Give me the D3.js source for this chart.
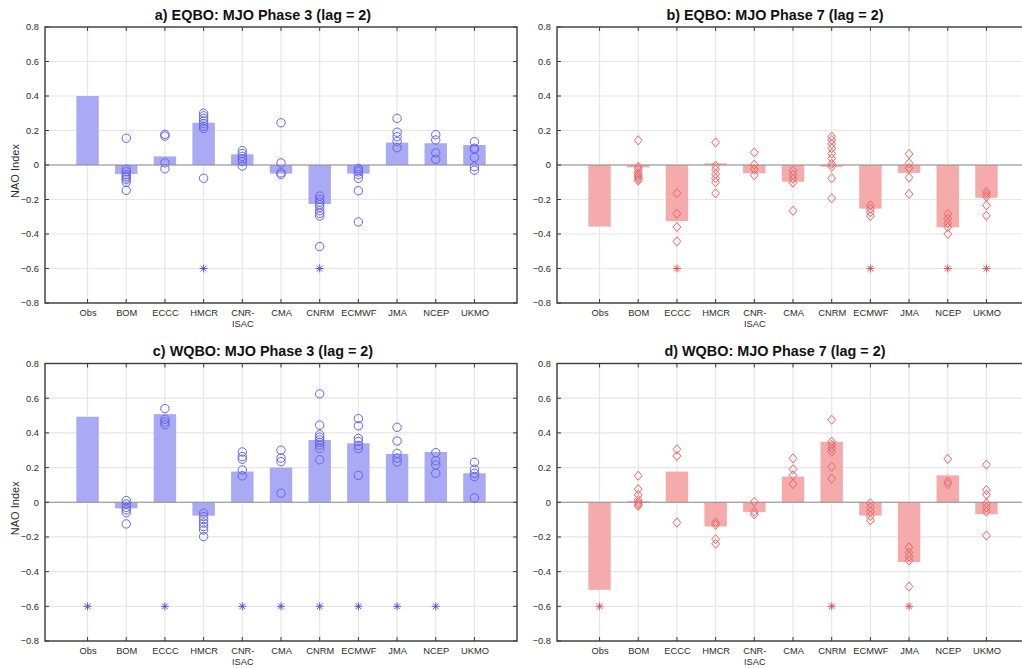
<!DOCTYPE html>
<html>
<head>
<meta charset="utf-8">
<script src="https://cdn.jsdelivr.net/npm/d3@7"></script>
<style>
  html, body { margin: 0; padding: 0; background: #fff; }
  svg { display: block; font-family: "Liberation Sans", Arial, Helvetica, sans-serif; }
</style>
</head>
<body>
<svg id="fig" width="1022" height="668"></svg>
<script>
// Categories: observations and the S2S forecast systems
const categories = ["Obs", "BOM", "ECCC", "HMCR", "CNR-\nISAC", "CMA", "CNRM", "ECMWF", "JMA", "NCEP", "UKMO"];
const yTicks = [-0.8, -0.6, -0.4, -0.2, 0, 0.2, 0.4, 0.6, 0.8];
const sigLevel = -0.6;

// Panel a) EQBO, MJO phase 3 — ensemble-mean NAO index per system
const barsA = [0.40, -0.052, 0.05, 0.245, 0.062, -0.05, -0.226, -0.05, 0.13, 0.126, 0.116];
const membersA = [
  [],
  [0.155, -0.025, -0.04, -0.055, -0.065, -0.075, -0.085, -0.10, -0.147],
  [0.178, 0.168, 0.013, -0.022],
  [0.30, 0.285, 0.27, 0.255, 0.24, 0.225, 0.212, -0.077],
  [0.083, 0.066, 0.05, 0.035, 0.02, -0.006],
  [0.245, 0.012, -0.045, -0.055],
  [-0.18, -0.20, -0.215, -0.23, -0.245, -0.265, -0.28, -0.296, -0.473],
  [-0.02, -0.03, -0.04, -0.056, -0.077, -0.149, -0.33],
  [0.27, 0.19, 0.164, 0.137, 0.10],
  [0.176, 0.145, 0.07, 0.033],
  [0.135, 0.097, 0.09, 0.044, -0.01, -0.03]
];
const sigA = [0, 0, 0, 1, 0, 0, 1, 0, 0, 0, 0];

// Panel b) EQBO, MJO phase 7
const barsB = [-0.357, -0.014, -0.325, 0.01, -0.048, -0.097, -0.01, -0.253, -0.046, -0.361, -0.19];
const membersB = [
  [],
  [0.143, -0.01, -0.025, -0.04, -0.05, -0.06, -0.07, -0.08, -0.09],
  [-0.164, -0.282, -0.36, -0.443],
  [0.131, -0.004, -0.025, -0.052, -0.077, -0.10, -0.164],
  [0.073, 0.002, -0.025, -0.06],
  [-0.033, -0.056, -0.08, -0.102, -0.265],
  [0.164, 0.145, 0.122, 0.097, 0.066, 0.039, 0.006, -0.01, -0.077, -0.193],
  [-0.234, -0.255, -0.274, -0.296],
  [0.064, 0.01, -0.017, -0.073, -0.168],
  [-0.284, -0.31, -0.338, -0.36, -0.40],
  [-0.155, -0.17, -0.184, -0.234, -0.294]
];
const sigB = [0, 0, 1, 0, 0, 0, 0, 1, 0, 1, 1];

// Panel c) WQBO, MJO phase 3
const barsC = [0.493, -0.035, 0.508, -0.077, 0.177, 0.20, 0.359, 0.34, 0.278, 0.29, 0.167];
const membersC = [
  [],
  [0.01, -0.01, -0.03, -0.044, -0.06, -0.125],
  [0.54, 0.478, 0.462, 0.447],
  [-0.063, -0.082, -0.10, -0.12, -0.14, -0.16, -0.198],
  [0.29, 0.263, 0.248, 0.186, 0.152],
  [0.30, 0.255, 0.234, 0.052],
  [0.625, 0.445, 0.39, 0.375, 0.36, 0.345, 0.33, 0.31, 0.245],
  [0.482, 0.441, 0.368, 0.35, 0.328, 0.309, 0.155],
  [0.432, 0.353, 0.282, 0.255, 0.232],
  [0.286, 0.24, 0.215, 0.167],
  [0.23, 0.19, 0.167, 0.148, 0.025]
];
const sigC = [1, 0, 1, 0, 1, 1, 1, 1, 1, 1, 0];

// Panel d) WQBO, MJO phase 7
const barsD = [-0.505, 0.006, 0.177, -0.14, -0.056, 0.148, 0.349, -0.077, -0.345, 0.155, -0.069];
const membersD = [
  [],
  [0.153, 0.075, 0.042, 0.013, 0.0, -0.012, -0.02],
  [0.305, 0.267, -0.117],
  [-0.117, -0.13, -0.213, -0.24],
  [0.002, -0.054, -0.07],
  [0.253, 0.19, 0.155, 0.105],
  [0.476, 0.349, 0.33, 0.31, 0.292, 0.205, 0.136],
  [-0.006, -0.03, -0.054, -0.079, -0.104],
  [-0.26, -0.29, -0.313, -0.336, -0.486],
  [0.25, 0.119, 0.104],
  [0.217, 0.071, 0.044, -0.006, -0.03, -0.054, -0.192]
];
const sigD = [1, 0, 0, 0, 0, 0, 1, 0, 1, 0, 0];

const blue = { bar: "#a9a9f4", marker: "#6565ee", star: "#4a4ae6", shape: "circle" };
const red  = { bar: "#f5abab", marker: "#ef6464", star: "#e34848", shape: "diamond" };

const panels = [
  { title: "a) EQBO: MJO Phase 3 (lag = 2)", bars: barsA, members: membersA, sig: sigA, col: blue, left: 45,  top: 27,    h: 276,   ylabel: true },
  { title: "b) EQBO: MJO Phase 7 (lag = 2)", bars: barsB, members: membersB, sig: sigB, col: red,  left: 557, top: 27,    h: 276,   ylabel: false },
  { title: "c) WQBO: MJO Phase 3 (lag = 2)", bars: barsC, members: membersC, sig: sigC, col: blue, left: 45,  top: 363.5, h: 277.5, ylabel: true },
  { title: "d) WQBO: MJO Phase 7 (lag = 2)", bars: barsD, members: membersD, sig: sigD, col: red,  left: 557, top: 363.5, h: 277.5, ylabel: false }
];

const svg = d3.select("#fig");
const axW = 472;
const barW = 0.58;

panels.forEach(p => {
  const x = d3.scaleLinear().domain([-0.1, 12.1]).range([p.left, p.left + axW]);
  const y = d3.scaleLinear().domain([-0.8, 0.8]).range([p.top + p.h, p.top]);
  const idx = d3.range(1, categories.length + 1);

  const g = svg.append("g");
  const clipId = "clip-" + p.title[0];
  g.append("clipPath").attr("id", clipId)
    .append("rect").attr("x", p.left).attr("y", p.top).attr("width", axW).attr("height", p.h);
  const plot = g.append("g").attr("clip-path", `url(#${clipId})`);

  // grid
  plot.append("g").selectAll("line").data(yTicks).join("line")
    .attr("x1", p.left).attr("x2", p.left + axW)
    .attr("y1", d => y(d)).attr("y2", d => y(d))
    .attr("stroke", "#e6e6e6").attr("stroke-width", 1.2);
  plot.append("g").selectAll("line").data(idx).join("line")
    .attr("x1", d => x(d)).attr("x2", d => x(d))
    .attr("y1", p.top).attr("y2", p.top + p.h)
    .attr("stroke", "#e6e6e6").attr("stroke-width", 1.2);

  // ensemble-mean bars
  plot.append("g").selectAll("rect").data(p.bars).join("rect")
    .attr("x", (d, i) => x(i + 1 - barW / 2))
    .attr("width", x(barW) - x(0))
    .attr("y", d => y(Math.max(0, d)))
    .attr("height", d => Math.abs(y(d) - y(0)))
    .attr("fill", p.col.bar);

  // zero line
  plot.append("line")
    .attr("x1", p.left).attr("x2", p.left + axW)
    .attr("y1", y(0)).attr("y2", y(0))
    .attr("stroke", "#8e8e8e").attr("stroke-width", 1.2);

  // individual members
  const pts = [];
  p.members.forEach((arr, i) => arr.forEach(v => pts.push({ i: i + 1, v })));
  if (p.col.shape === "circle") {
    plot.append("g").selectAll("circle").data(pts).join("circle")
      .attr("cx", d => x(d.i)).attr("cy", d => y(d.v)).attr("r", 4.2)
      .attr("fill", "none").attr("stroke", p.col.marker).attr("stroke-width", 1);
  } else {
    const s = 4.6;
    plot.append("g").selectAll("path").data(pts).join("path")
      .attr("d", d => `M${x(d.i)},${y(d.v) - s}L${x(d.i) + s * 0.85},${y(d.v)}L${x(d.i)},${y(d.v) + s}L${x(d.i) - s * 0.85},${y(d.v)}Z`)
      .attr("fill", "none").attr("stroke", p.col.marker).attr("stroke-width", 1);
  }

  // significance asterisks
  const stars = idx.filter((d, i) => p.sig[i]);
  const r = 4;
  plot.append("g").selectAll("path").data(stars).join("path")
    .attr("d", d => {
      const cx = x(d), cy = y(sigLevel), q = r * 0.72;
      return `M${cx - r},${cy}L${cx + r},${cy}M${cx},${cy - r}L${cx},${cy + r}` +
             `M${cx - q},${cy - q}L${cx + q},${cy + q}M${cx - q},${cy + q}L${cx + q},${cy - q}`;
    })
    .attr("stroke", p.col.star).attr("stroke-width", 0.9).attr("fill", "none");

  // axes
  const yAxis = d3.axisLeft(y).tickValues(yTicks).tickFormat(d => d === 0 ? "0" : d3.format(".1f")(d)).tickSize(0).tickPadding(6);
  const ya = g.append("g").attr("transform", `translate(${p.left},0)`).call(yAxis);
  ya.select(".domain").remove();
  ya.selectAll("text").attr("font-size", 9.3).attr("fill", "#2b2b2b").attr("font-family", "Liberation Sans, Arial, sans-serif");

  const xAxis = d3.axisBottom(x).tickValues(idx).tickFormat(() => "").tickSize(0);
  const xa = g.append("g").attr("transform", `translate(0,${p.top + p.h})`).call(xAxis);
  xa.select(".domain").remove();
  xa.selectAll(".tick").each(function (d) {
    const lines = categories[d - 1].split("\n");
    const t = d3.select(this).append("text")
      .attr("fill", "#2b2b2b").attr("font-size", 9.3).attr("text-anchor", "middle")
      .attr("font-family", "Liberation Sans, Arial, sans-serif");
    lines.forEach((ln, k) => t.append("tspan").attr("x", 0).attr("y", 13 + k * 11).text(ln));
  });

  // inward tick marks on the box
  const tk = g.append("g").attr("stroke", "#3a3a3a").attr("stroke-width", 1);
  tk.selectAll(".tt").data(idx).join("line").attr("class", "tt")
    .attr("x1", d => x(d)).attr("x2", d => x(d)).attr("y1", p.top).attr("y2", p.top + 4);
  tk.selectAll(".tb").data(idx).join("line").attr("class", "tb")
    .attr("x1", d => x(d)).attr("x2", d => x(d)).attr("y1", p.top + p.h).attr("y2", p.top + p.h - 4);
  tk.selectAll(".tl").data(yTicks).join("line").attr("class", "tl")
    .attr("x1", p.left).attr("x2", p.left + 4).attr("y1", d => y(d)).attr("y2", d => y(d));
  tk.selectAll(".tr").data(yTicks).join("line").attr("class", "tr")
    .attr("x1", p.left + axW).attr("x2", p.left + axW - 4).attr("y1", d => y(d)).attr("y2", d => y(d));

  // box
  g.append("rect").attr("x", p.left).attr("y", p.top).attr("width", axW).attr("height", p.h)
    .attr("fill", "none").attr("stroke", "#3a3a3a").attr("stroke-width", 1.4);

  // title
  g.append("text").attr("x", p.left + axW / 2 - 18).attr("y", p.top - 7.5)
    .attr("text-anchor", "middle").attr("font-weight", "bold").attr("font-size", 14.4)
    .attr("fill", "#111").text(p.title);

  if (p.ylabel) {
    g.append("text")
      .attr("transform", `translate(${p.left - 26},${y(0) + 6}) rotate(-90)`)
      .attr("text-anchor", "middle").attr("font-size", 11).attr("fill", "#2b2b2b")
      .text("NAO Index");
  }
});
</script>
</body>
</html>
